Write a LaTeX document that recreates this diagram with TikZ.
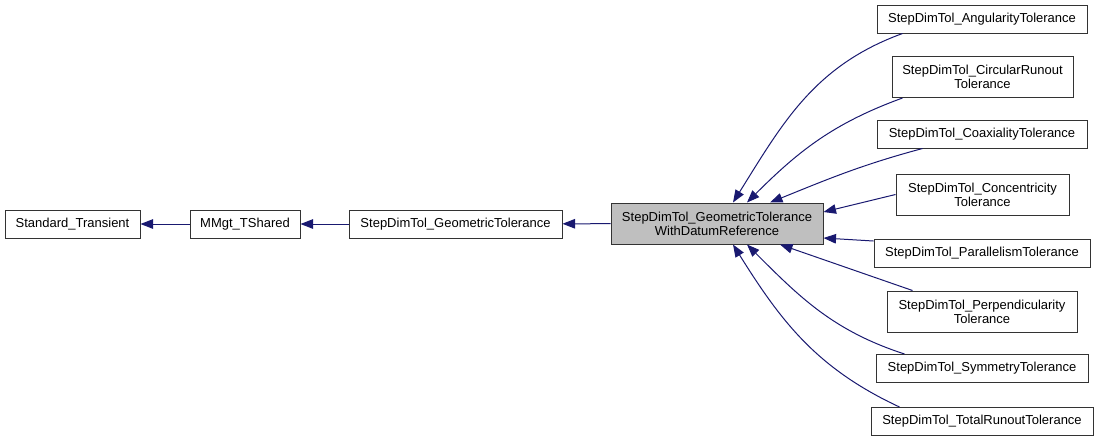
\documentclass[tikz,border=0pt]{standalone}
\usepackage{fontspec}
\setmainfont{Liberation Sans}
\usetikzlibrary{arrows.meta}
\definecolor{edgeblue}{HTML}{191970}
\definecolor{basegray}{HTML}{BFBFBF}

\begin{document}
\begin{tikzpicture}[x=1pt, y=-1pt,
  every node/.style={
    rectangle, draw=black!80, line width=1pt, align=center, inner sep=0pt,
    minimum height=28pt, font=\fontsize{13}{14}\selectfont
  },
  twoline/.style={minimum height=41pt},
  inherit/.style={draw=edgeblue, line width=1pt, -{Triangle[length=12.5pt,width=9.5pt]}}]
\useasboundingbox (0,0) rectangle (1099,440);
% base classes
\node[minimum width=135pt] (std) at (72.5,224) {Standard\_Transient};
\node[minimum width=110pt] (mmgt) at (245,224) {MMgt\_TShared};
\node[minimum width=213pt] (gtol) at (455.5,224) {StepDimTol\_GeometricTolerance};
\node[twoline, minimum width=212pt, fill=basegray] (geo) at (717,223.5)
  {StepDimTol\_GeometricTolerance\\WithDatumReference};
% derived classes
\node[minimum width=210pt] (ang) at (982,19) {StepDimTol\_AngularityTolerance};
\node[twoline, minimum width=181pt] (circ) at (982.5,77) {StepDimTol\_CircularRunout\\Tolerance};
\node[minimum width=210pt] (coax) at (982,134) {StepDimTol\_CoaxialityTolerance};
\node[twoline, minimum width=173pt] (conc) at (982.5,194.5) {StepDimTol\_Concentricity\\Tolerance};
\node[minimum width=216pt] (par) at (982,253.5) {StepDimTol\_ParallelismTolerance};
\node[twoline, minimum width=190pt] (perp) at (982,311.5) {StepDimTol\_Perpendicularity\\Tolerance};
\node[minimum width=212pt] (sym) at (982,368.5) {StepDimTol\_SymmetryTolerance};
\node[minimum width=222pt] (tot) at (982,421.5) {StepDimTol\_TotalRunoutTolerance};
% inheritance
\draw[inherit] (mmgt) -- (std);
\draw[inherit] (gtol) -- (mmgt);
\draw[inherit] (geo) -- (gtol);
\draw[inherit] ([xshift=26pt]ang.south west) to[out=200, in=58] ([xshift=16pt]geo.north);
\draw[inherit] ([xshift=11pt]circ.south west) to[out=200, in=45] ([xshift=30pt]geo.north);
\draw[inherit] ([xshift=46pt]coax.south west) to[out=195, in=22] ([xshift=53pt]geo.north);
\draw[inherit] (conc.west) -- ([yshift=11.5pt]geo.east);
\draw[inherit] ([yshift=-2pt]par.north west) -- ([yshift=-14.5pt]geo.east);
\draw[inherit] ([xshift=26pt]perp.north west) -- ([xshift=63pt]geo.south);
\draw[inherit] ([xshift=29pt]sym.north west) to[out=162, in=-45] ([xshift=30pt]geo.south);
\draw[inherit] ([xshift=29pt]tot.north west) to[out=155, in=-58] ([xshift=16pt]geo.south);
\end{tikzpicture}
\end{document}
